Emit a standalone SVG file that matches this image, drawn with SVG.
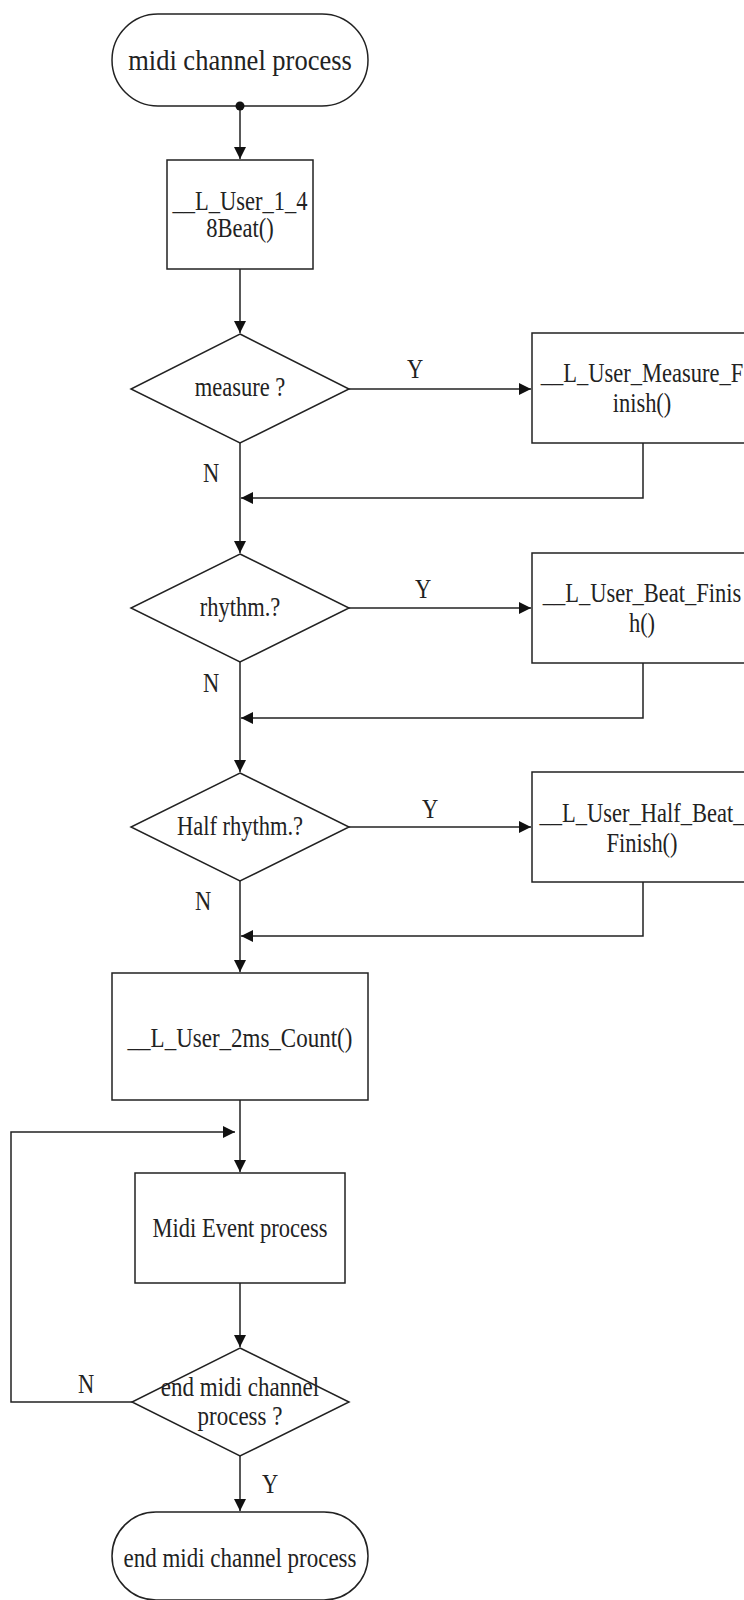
<svg xmlns="http://www.w3.org/2000/svg" width="744" height="1600" viewBox="0 0 744 1600">
<defs>
<style>
.shape{fill:#fff;stroke:#222;stroke-width:1.5}
.line{fill:none;stroke:#222;stroke-width:1.5}
.t{font-family:"Liberation Serif","Times New Roman",serif;font-size:22.5px;fill:#222;text-anchor:middle}
.big{font-size:26.5px}
.mid{font-size:23px}
</style>
<marker id="arr" viewBox="0 0 10 10" refX="10" refY="5" markerWidth="13" markerHeight="12" markerUnits="userSpaceOnUse" orient="auto">
<path d="M0,0 L10,5 L0,10 z" fill="#111"/>
</marker>
</defs>
<rect width="744" height="1600" fill="#fff"/>

<g id="start">
<rect class="shape" x="112" y="14" width="256" height="92" rx="46" ry="46"/>
<text class="t big" transform="translate(240,70) scale(1,1.15)">midi channel process</text>
</g>

<g id="beat48">
<rect class="shape" x="167" y="160" width="146" height="109"/>
<text class="t" transform="translate(240,210) scale(1,1.2)">__L_User_1_4</text>
<text class="t" transform="translate(240,237) scale(1,1.2)">8Beat()</text>
</g>

<g id="measure">
<polygon class="shape" points="240,334 349,389 240,443 131,389"/>
<text class="t" transform="translate(240,396) scale(1,1.25)">measure ?</text>
</g>

<g id="measureFinish">
<rect class="shape" x="532" y="333" width="220" height="110"/>
<text class="t" transform="translate(642,382) scale(1,1.25)">__L_User_Measure_F</text>
<text class="t" transform="translate(642,412) scale(1,1.25)">inish()</text>
</g>

<g id="rhythm">
<polygon class="shape" points="240,554 349,608 240,662 131,608"/>
<text class="t" transform="translate(240,616) scale(1,1.25)">rhythm.?</text>
</g>

<g id="beatFinish">
<rect class="shape" x="532" y="553" width="220" height="110"/>
<text class="t" transform="translate(642,602) scale(1,1.25)">__L_User_Beat_Finis</text>
<text class="t" transform="translate(642,632) scale(1,1.25)">h()</text>
</g>

<g id="halfRhythm">
<polygon class="shape" points="240,773 349,827 240,881 131,827"/>
<text class="t" transform="translate(240,835) scale(1,1.25)">Half rhythm.?</text>
</g>

<g id="halfBeatFinish">
<rect class="shape" x="532" y="772" width="220" height="110"/>
<text class="t" transform="translate(642,822) scale(1,1.25)">__L_User_Half_Beat_</text>
<text class="t" transform="translate(642,852) scale(1,1.25)">Finish()</text>
</g>

<g id="count2ms">
<rect class="shape" x="112" y="973" width="256" height="127"/>
<text class="t mid" transform="translate(240,1047) scale(1,1.2)">__L_User_2ms_Count()</text>
</g>

<g id="midiEvent">
<rect class="shape" x="135" y="1173" width="210" height="110"/>
<text class="t" transform="translate(240,1237) scale(1,1.25)">Midi Event process</text>
</g>

<g id="endDecision">
<polygon class="shape" points="240,1348 349,1402 240,1456 132,1402"/>
<text class="t mid" transform="translate(240,1396) scale(1,1.2)">end midi channel</text>
<text class="t mid" transform="translate(240,1425) scale(1,1.2)">process ?</text>
</g>

<g id="end">
<rect class="shape" x="112" y="1512" width="256" height="88" rx="44" ry="44"/>
<text class="t mid" transform="translate(240,1567) scale(1,1.2)">end midi channel process</text>
</g>

<g id="connectors">
<path class="line" d="M240,106 V159" marker-end="url(#arr)"/>
<circle cx="240" cy="106" r="4.5" fill="#111"/>
<path class="line" d="M240,269 V333" marker-end="url(#arr)"/>
<path class="line" d="M349,389 H531" marker-end="url(#arr)"/>
<path class="line" d="M643,443 V498 H241" marker-end="url(#arr)"/>
<path class="line" d="M240,443 V553" marker-end="url(#arr)"/>
<path class="line" d="M349,608 H531" marker-end="url(#arr)"/>
<path class="line" d="M643,663 V718 H241" marker-end="url(#arr)"/>
<path class="line" d="M240,662 V772" marker-end="url(#arr)"/>
<path class="line" d="M349,827 H531" marker-end="url(#arr)"/>
<path class="line" d="M643,882 V936 H241" marker-end="url(#arr)"/>
<path class="line" d="M240,881 V972" marker-end="url(#arr)"/>
<path class="line" d="M240,1100 V1172" marker-end="url(#arr)"/>
<path class="line" d="M240,1283 V1347" marker-end="url(#arr)"/>
<path class="line" d="M132,1402 H11 V1132 H235" marker-end="url(#arr)"/>
<path class="line" d="M240,1456 V1511" marker-end="url(#arr)"/>
<text class="t" transform="translate(415,378) scale(1,1.25)">Y</text>
<text class="t" transform="translate(423,598) scale(1,1.25)">Y</text>
<text class="t" transform="translate(430,818) scale(1,1.25)">Y</text>
<text class="t" transform="translate(211,482) scale(1,1.25)">N</text>
<text class="t" transform="translate(211,692) scale(1,1.25)">N</text>
<text class="t" transform="translate(203,910) scale(1,1.25)">N</text>
<text class="t" transform="translate(86,1393) scale(1,1.25)">N</text>
<text class="t" transform="translate(270,1493) scale(1,1.25)">Y</text>
</g>
</svg>
